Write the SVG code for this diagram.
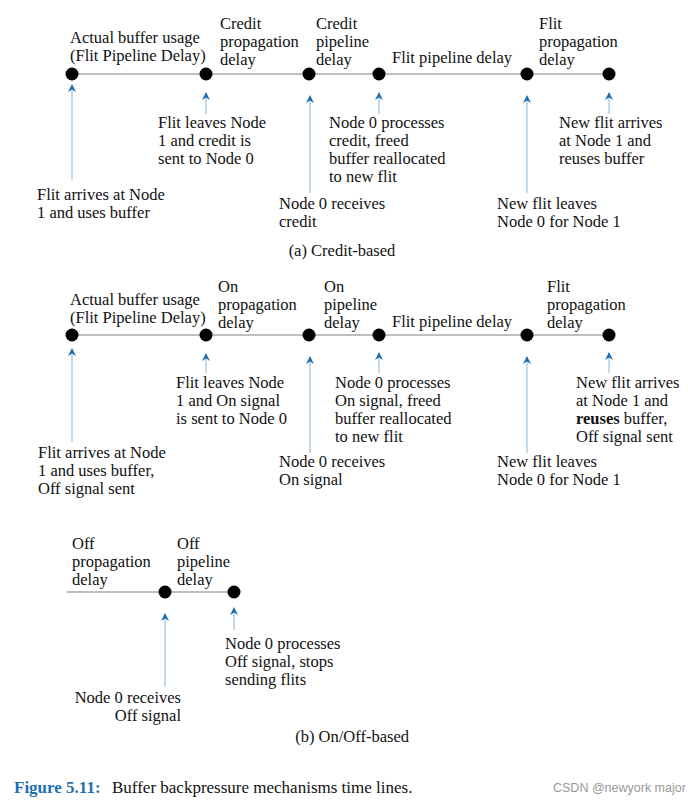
<svg xmlns="http://www.w3.org/2000/svg" width="688" height="801" viewBox="0 0 688 801">
<style>
text{font-family:"Liberation Serif","Times New Roman",serif;font-size:16.5px;fill:#111}
.tl{stroke:#aaa;stroke-width:1.3;fill:none}
.dot{fill:#000}
.ar{stroke:#9cc3de;stroke-width:1.2;fill:none;marker-end:url(#ah)}
.cap{font-size:17px}
.fig{fill:#1f6fb0;font-weight:bold}
.wm{font-family:"Liberation Sans",Arial,sans-serif;font-size:12.5px;fill:#999}
</style>
<defs>
<marker id="ah" viewBox="0 0 8 10" refX="7" refY="5" markerWidth="8" markerHeight="10" orient="auto" markerUnits="userSpaceOnUse">
<path d="M0,1 L8,5 L0,9 L2.5,5 Z" fill="#1f6fb0"/>
</marker>
</defs>

<g id="connectors">
<line class="tl" x1="72" y1="74" x2="609" y2="74"/>
<line class="tl" x1="72" y1="335" x2="609" y2="335"/>
<line class="tl" x1="67" y1="592" x2="234" y2="592"/>
<line class="ar" x1="72" y1="180" x2="72" y2="85"/>
<line class="ar" x1="206" y1="114" x2="206" y2="93"/>
<line class="ar" x1="310" y1="193" x2="310" y2="96"/>
<line class="ar" x1="379" y1="114" x2="379" y2="93"/>
<line class="ar" x1="527" y1="193" x2="527" y2="96"/>
<line class="ar" x1="609" y1="114" x2="609" y2="93"/>
<line class="ar" x1="72" y1="442" x2="72" y2="349"/>
<line class="ar" x1="206" y1="373" x2="206" y2="354"/>
<line class="ar" x1="310" y1="453" x2="310" y2="357"/>
<line class="ar" x1="379" y1="373" x2="379" y2="353"/>
<line class="ar" x1="527" y1="453" x2="527" y2="357"/>
<line class="ar" x1="609" y1="373" x2="609" y2="353"/>
<line class="ar" x1="165" y1="687" x2="165" y2="614"/>
<line class="ar" x1="234" y1="630" x2="234" y2="608"/>
</g>

<g id="credit-timeline">
<g id="a-n1"><circle class="dot" cx="72" cy="74" r="6.5"/></g>
<g id="a-n2"><circle class="dot" cx="206" cy="74" r="6.5"/></g>
<g id="a-n3"><circle class="dot" cx="309" cy="74" r="6.5"/></g>
<g id="a-n4"><circle class="dot" cx="379" cy="74" r="6.5"/></g>
<g id="a-n5"><circle class="dot" cx="527" cy="74" r="6.5"/></g>
<g id="a-n6"><circle class="dot" cx="609" cy="74" r="6.5"/></g>
<text x="70" y="43">Actual buffer usage<tspan x="70" y="61">(Flit Pipeline Delay)</tspan></text>
<text x="220" y="29">Credit<tspan x="220" y="47">propagation</tspan><tspan x="220" y="65">delay</tspan></text>
<text x="316" y="29">Credit<tspan x="316" y="47">pipeline</tspan><tspan x="316" y="65">delay</tspan></text>
<text x="392" y="63">Flit pipeline delay</text>
<text x="539" y="29">Flit<tspan x="539" y="47">propagation</tspan><tspan x="539" y="65">delay</tspan></text>
<text x="37" y="200">Flit arrives at Node<tspan x="37" y="218">1 and uses buffer</tspan></text>
<text x="158" y="128">Flit leaves Node<tspan x="158" y="146">1 and credit is</tspan><tspan x="158" y="164">sent to Node 0</tspan></text>
<text x="279" y="209">Node 0 receives<tspan x="279" y="227">credit</tspan></text>
<text x="329" y="128">Node 0 processes<tspan x="329" y="146">credit, freed</tspan><tspan x="329" y="164">buffer reallocated</tspan><tspan x="329" y="182">to new flit</tspan></text>
<text x="497" y="209">New flit leaves<tspan x="497" y="227">Node 0 for Node 1</tspan></text>
<text x="559" y="128">New flit arrives<tspan x="559" y="146">at Node 1 and</tspan><tspan x="559" y="164">reuses buffer</tspan></text>
<text x="342" y="256" text-anchor="middle">(a) Credit-based</text>
</g>

<g id="onoff-timeline">
<g id="b-n1"><circle class="dot" cx="72" cy="335" r="6.5"/></g>
<g id="b-n2"><circle class="dot" cx="206" cy="335" r="6.5"/></g>
<g id="b-n3"><circle class="dot" cx="309" cy="335" r="6.5"/></g>
<g id="b-n4"><circle class="dot" cx="379" cy="335" r="6.5"/></g>
<g id="b-n5"><circle class="dot" cx="527" cy="335" r="6.5"/></g>
<g id="b-n6"><circle class="dot" cx="609" cy="335" r="6.5"/></g>
<text x="70" y="305">Actual buffer usage<tspan x="70" y="323">(Flit Pipeline Delay)</tspan></text>
<text x="218" y="292">On<tspan x="218" y="310">propagation</tspan><tspan x="218" y="328">delay</tspan></text>
<text x="324" y="292">On<tspan x="324" y="310">pipeline</tspan><tspan x="324" y="328">delay</tspan></text>
<text x="392" y="327">Flit pipeline delay</text>
<text x="547" y="292">Flit<tspan x="547" y="310">propagation</tspan><tspan x="547" y="328">delay</tspan></text>
<text x="38" y="458">Flit arrives at Node<tspan x="38" y="476">1 and uses buffer,</tspan><tspan x="38" y="494">Off signal sent</tspan></text>
<text x="176" y="388">Flit leaves Node<tspan x="176" y="406">1 and On signal</tspan><tspan x="176" y="424">is sent to Node 0</tspan></text>
<text x="279" y="467">Node 0 receives<tspan x="279" y="485">On signal</tspan></text>
<text x="335" y="388">Node 0 processes<tspan x="335" y="406">On signal, freed</tspan><tspan x="335" y="424">buffer reallocated</tspan><tspan x="335" y="442">to new flit</tspan></text>
<text x="497" y="467">New flit leaves<tspan x="497" y="485">Node 0 for Node 1</tspan></text>
<text x="576" y="388">New flit arrives<tspan x="576" y="406">at Node 1 and</tspan><tspan x="576" y="424" font-weight="bold">reuses</tspan><tspan> buffer,</tspan><tspan x="576" y="442">Off signal sent</tspan></text>

<g id="c-n1"><circle class="dot" cx="165" cy="592" r="6.5"/></g>
<g id="c-n2"><circle class="dot" cx="234" cy="592" r="6.5"/></g>
<text x="72" y="549">Off<tspan x="72" y="567">propagation</tspan><tspan x="72" y="585">delay</tspan></text>
<text x="177" y="549">Off<tspan x="177" y="567">pipeline</tspan><tspan x="177" y="585">delay</tspan></text>
<text x="225" y="649">Node 0 processes<tspan x="225" y="667">Off signal, stops</tspan><tspan x="225" y="685">sending flits</tspan></text>
<text x="181" y="703" text-anchor="end">Node 0 receives<tspan x="181" y="721">Off signal</tspan></text>
<text x="409" y="742" text-anchor="end">(b) On/Off-based</text>
</g>

<g id="caption">
<text class="cap" x="14" y="793"><tspan class="fig">Figure 5.11:</tspan><tspan x="112">Buffer backpressure mechanisms time lines.</tspan></text>
<text class="wm" x="553" y="792">CSDN @newyork major</text>
</g>
</svg>
